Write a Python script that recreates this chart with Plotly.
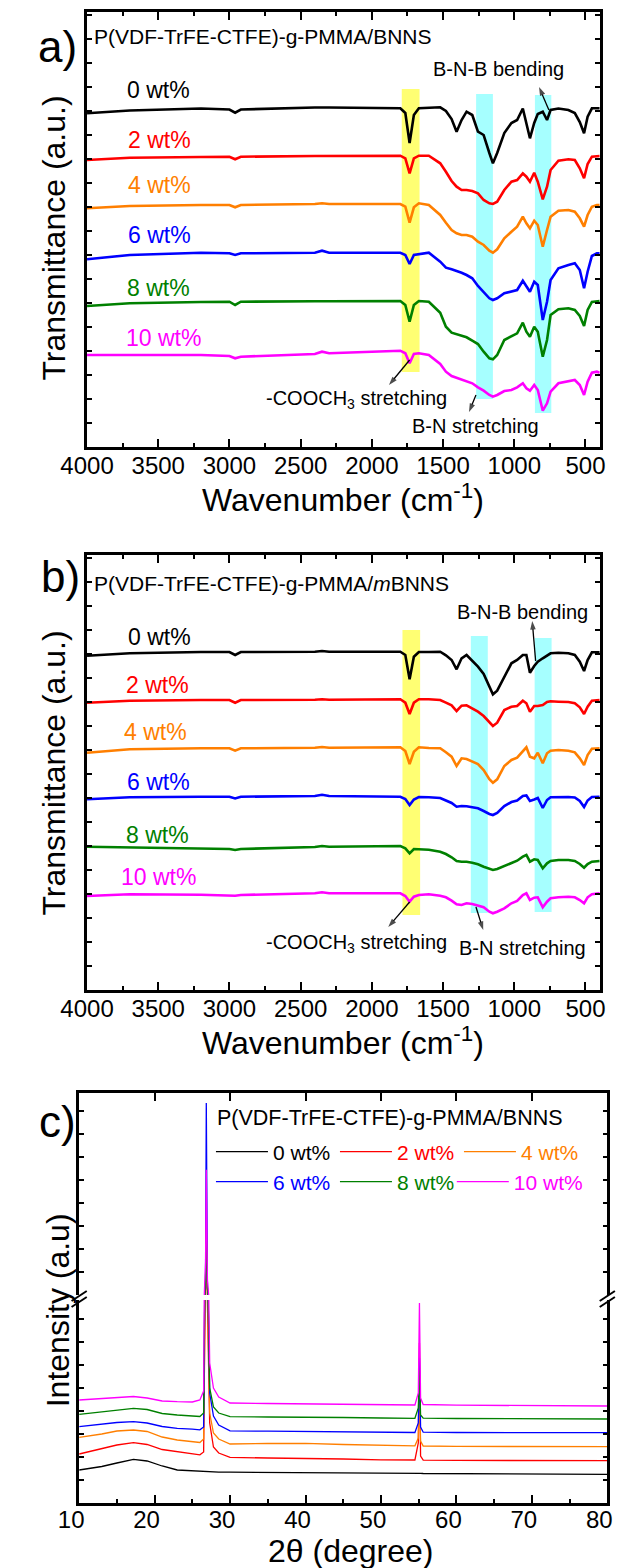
import plotly.graph_objects as go

W, H = 618, 1568
FONT = "Liberation Sans, Arial, sans-serif"


def px(x):
    return x / W


def py(y):
    return 1 - y / H


# ---------------- data ----------------
loadings = ["0 wt%", "2 wt%", "4 wt%", "6 wt%", "8 wt%", "10 wt%"]
colors = ["#000000", "#FF0000", "#FF7F00", "#0000FF", "#008000", "#FF00FF"]

wavenumber = [4000, 3700, 3200, 3000, 2960, 2920, 2400, 2350, 2300, 1800,
              1765, 1735, 1705, 1670, 1600, 1520, 1480, 1440, 1405, 1370,
              1335, 1295, 1255, 1215, 1175, 1150, 1120, 1070, 1020, 980,
              940, 915, 890, 860, 835, 800, 770, 745, 690, 620,
              575, 540, 510, 485, 455, 420, 400]

# panel a : P(VDF-TrFE-CTFE)-g-PMMA/BNNS  (stacked transmittance, a.u.)
ftir_a_0 = [333.7, 336.5, 338.5, 337.5, 334.3, 337.5, 339.5, 339.7, 339.5, 338.7,
            334, 304, 332, 338.7, 339, 339.7, 336, 328, 315.3, 327,
            335.3, 332, 315.3, 312, 294, 283.7, 294, 314, 324, 327,
            338.5, 324, 308.7, 324, 333, 335.3, 327, 337, 338.5, 337,
            334, 325, 313.7, 330.3, 338.7, 338.7, 338.7]
ftir_a_2 = [287, 289.3, 290, 290.3, 287.7, 290.3, 291, 291, 291, 291.3,
            288.7, 273.7, 288.7, 291.3, 291.3, 283.7, 275.3, 266, 260.3, 257,
            257, 256, 253.7, 247, 243.7, 243, 245.3, 257, 265.3, 267,
            273.7, 270.3, 265.3, 274.3, 265.3, 247.7, 260.3, 277, 286.3, 287.7,
            287, 278.7, 268.7, 283, 290.3, 291, 291]
ftir_a_4 = [238.7, 241, 242, 242, 239.7, 242, 243, 243.7, 243, 243,
            240.3, 224.3, 239.7, 243.7, 242, 232, 224.3, 217, 213.7, 212,
            212, 210.3, 205.3, 202, 196.3, 194.3, 197.7, 208.7, 215.3, 220.3,
            230.3, 223.7, 218.7, 226.3, 222, 200.3, 217, 230.3, 236.3, 237,
            235.3, 228.7, 220.3, 232, 240.3, 242, 242]
ftir_a_6 = [187.7, 192, 194.3, 193.7, 192, 193.7, 194.3, 196.3, 194.3, 194.3,
            192, 183, 192, 193, 194.3, 185.3, 179.3, 177.7, 176.3, 174.3,
            172, 168.7, 161, 155.3, 148.7, 147, 148.7, 153.7, 155.3, 157,
            166.3, 160.3, 155.3, 165.3, 162, 127, 145.3, 167, 178.7, 182,
            183.7, 177, 158.7, 175.3, 191, 193.7, 193.7]
ftir_a_8 = [141, 143.7, 145, 145.3, 142, 145.3, 145.7, 146, 145.7, 146,
            142, 125.3, 142, 146, 145.3, 134.3, 120.3, 114.3, 112.7, 111.3,
            109.7, 106.3, 103, 95.3, 88.7, 87.7, 92, 107, 110.3, 113.7,
            124.3, 115.3, 110.3, 120.3, 115.3, 90.3, 107, 132, 137.7, 138.7,
            137, 131, 121, 137, 145, 146, 146]
ftir_a_10 = [92, 92, 92, 91, 88.7, 90.3, 93, 95.3, 93.7, 96.3,
             93.7, 83.7, 93, 93.7, 92, 83, 75.3, 71, 69.3, 68,
             66.3, 63.7, 59.7, 56.3, 52, 50.3, 52, 56, 57, 59.7,
             63.7, 58.7, 56.3, 62, 57, 36.3, 43.7, 55.3, 63.7, 65.3,
             67, 62, 52, 65.3, 74.3, 75.3, 74.3]

# panel b : P(VDF-TrFE-CTFE)-g-PMMA/mBNNS
ftir_b_0 = [334.3, 336.7, 338, 338, 335, 338, 338.3, 339, 338.3, 338.3,
            335, 310.7, 333.3, 338, 338, 338.3, 334.7, 330, 320.7, 331.7,
            335, 329.3, 323.3, 316, 302.7, 295.7, 299.3, 313.3, 326.7, 330,
            335, 335, 317.3, 324, 328.3, 331.7, 334, 336.7, 337.3, 336.7,
            335, 328.3, 319, 330, 337.7, 338, 337.7]
ftir_b_2 = [287.3, 289.3, 290, 290, 287.3, 290, 290.3, 290.7, 290.3, 290.7,
            287.3, 276, 287.3, 290.7, 290.7, 290, 287.3, 284.7, 279, 284.3,
            284.7, 281.7, 278.3, 274, 268.3, 264, 267.3, 280, 283.3, 284,
            289.3, 286.7, 278.3, 284, 284, 285, 288, 288.7, 288.3, 288,
            286.7, 282.7, 276, 283.3, 289.3, 290, 290]
ftir_b_4 = [237.3, 240.7, 241.7, 241.7, 239.3, 241.7, 242.3, 243, 242.3, 242.7,
            239, 226, 238.3, 242.7, 242, 241.7, 237.7, 233.3, 224, 231.7,
            231, 228.3, 226, 220, 210.7, 207.3, 210.7, 224, 230, 232.3,
            238.3, 242.7, 233.3, 231.7, 237.3, 226.7, 236.7, 239.3, 240, 239.3,
            237.7, 231.7, 225, 235, 241.3, 241.7, 241.7]
ftir_b_6 = [190.7, 192.7, 193.3, 193.3, 191.5, 193.3, 194, 195.3, 194, 193.3,
            191, 185, 190.5, 193, 192.7, 192, 189.5, 187, 183.3, 184,
            183.7, 183, 181.7, 179, 176, 175, 177, 184, 188, 189.5,
            194, 194.5, 189, 190.5, 192, 182, 190, 192.7, 193, 193,
            192.5, 189, 183, 189.5, 193, 193.3, 193.3]
ftir_b_8 = [143.3, 142.7, 141.7, 141, 140, 141, 143, 144, 143.3, 144,
            141.7, 136.7, 141, 140.7, 140.3, 138.3, 136, 132.7, 129, 128.3,
            128.3, 127.3, 125.7, 123.3, 121, 120, 121, 124, 126.7, 129.3,
            133.3, 135, 128.3, 130.7, 130, 121.7, 126.7, 129, 130, 130,
            129, 126, 122.3, 126, 128.3, 129, 129]
ftir_b_10 = [94, 95.7, 95.3, 95, 94.3, 95, 96.7, 97.7, 96.7, 96.7,
             94, 88.3, 93.3, 95, 95.7, 94.3, 92.7, 89.3, 85.7, 85,
             86.7, 86, 84, 82.7, 78.3, 76.7, 78.3, 81.7, 86.7, 89,
             95, 96.7, 90, 92.3, 92.7, 82.7, 88.3, 91.7, 92.7, 93.3,
             92.7, 90, 86.7, 92.7, 95.7, 96.7, 96.7]

# highlighted bands [colour, x_start, x_end, y_bottom, y_top]
bands_a = [["#FFFF73", 1790, 1665, 75, 358],
           ["#A6FFFF", 1268, 1150, 48, 353],
           ["#A6FFFF", 855, 740, 34, 352]]
bands_b = [["#FFFF73", 1785, 1661, 75, 360],
           ["#A6FFFF", 1305, 1186, 77, 354],
           ["#A6FFFF", 857, 738, 78, 352]]

# annotation arrows [tail_x, tail_y, head_x, head_y] in data units
arrows_a = [[757, 337, 826, 360],     # B-N-B bending
            [1735, 87, 1880, 62],     # -COOCH3 stretching
            [1269, 52, 1318, 35]]     # B-N stretching
arrows_b = [[850, 329, 874, 369],
            [1735, 88, 1885, 63],
            [1269, 83, 1218, 60]]

# panel c : XRD (counts, a.u.)
two_theta = [10, 13, 15, 17.2, 19, 21, 23, 25, 26.0, 26.5,
             26.75, 26.85, 27.0, 27.3, 27.8, 28.5, 30, 35, 40, 45,
             50, 54.5, 54.95, 55.1, 55.25, 55.6, 60, 70, 80]
xrd_0 = [330, 365, 400, 437, 420, 370, 330, 320, 315, 313,
         312, 312, 311, 310, 310, 309, 308, 307, 305, 302,
         298, 296, 296, 296, 296, 295, 293, 290, 287]
xrd_2 = [490, 540, 580, 603, 585, 535, 513, 490, 482, 510,
         2500, 4500, 2000, 800, 560, 500, 457, 450, 447, 440,
         432, 430, 600, 1600, 470, 428, 426, 424, 423]
xrd_4 = [657, 690, 720, 730, 715, 660, 630, 612, 605, 640,
         2500, 5000, 2200, 900, 700, 640, 590, 595, 597, 585,
         575, 572, 650, 1130, 620, 570, 566, 565, 563]
xrd_6 = [763, 785, 805, 813, 800, 765, 747, 738, 732, 760,
         3000, 13300, 2500, 1100, 870, 780, 722, 718, 713, 710,
         707, 705, 800, 1450, 760, 708, 705, 704, 703]
xrd_8 = [887, 910, 930, 947, 935, 895, 880, 868, 865, 900,
         3000, 6000, 2500, 1150, 960, 900, 863, 860, 860, 855,
         850, 847, 950, 1330, 880, 848, 845, 842, 840]
xrd_10 = [1030, 1045, 1060, 1065, 1050, 1020, 1013, 1010, 1030, 1120,
          4000, 9400, 3000, 1400, 1150, 1060, 1000, 995, 990, 985,
          982, 980, 1100, 2000, 1050, 985, 978, 973, 970]

ftir_a = [ftir_a_0, ftir_a_2, ftir_a_4, ftir_a_6, ftir_a_8, ftir_a_10]
ftir_b = [ftir_b_0, ftir_b_2, ftir_b_4, ftir_b_6, ftir_b_8, ftir_b_10]
xrd = [xrd_0, xrd_2, xrd_4, xrd_6, xrd_8, xrd_10]

# ---------------- figure ----------------
fig = go.Figure()

for i in range(6):
    fig.add_trace(go.Scatter(x=wavenumber, y=ftir_a[i], mode="lines",
                             line=dict(color=colors[i], width=2.6),
                             xaxis="x", yaxis="y", showlegend=False,
                             hoverinfo="skip"))
for i in range(6):
    fig.add_trace(go.Scatter(x=wavenumber, y=ftir_b[i], mode="lines",
                             line=dict(color=colors[i], width=2.6),
                             xaxis="x2", yaxis="y2", showlegend=False,
                             hoverinfo="skip"))

legend_of = ["legend", "legend", "legend", "legend2", "legend2", "legend3"]
for i in range(6):
    fig.add_trace(go.Scatter(
        x=two_theta, y=xrd[i], mode="lines",
        line=dict(color=colors[i], width=1.3),
        xaxis="x3", yaxis="y3",
        name=f"<span style='color:{colors[i]}'>{loadings[i]}</span>",
        legend=legend_of[i], showlegend=True, hoverinfo="skip"))
for i in range(6):
    fig.add_trace(go.Scatter(x=two_theta, y=xrd[i], mode="lines",
                             line=dict(color=colors[i], width=1.3),
                             xaxis="x4", yaxis="y4", showlegend=False,
                             hoverinfo="skip"))

# arrows (line + arrow-head marker oriented along the segment)
for arrows, xr, yr in [(arrows_a, "x", "y"), (arrows_b, "x2", "y2")]:
    for tx, ty, hx, hy in arrows:
        fig.add_trace(go.Scatter(
            x=[tx, hx], y=[ty, hy], mode="lines+markers",
            line=dict(color="black", width=1.3),
            marker=dict(symbol=["circle", "arrow"], size=[0, 9],
                        color="black", angleref="previous",
                        line=dict(width=0)),
            xaxis=xr, yaxis=yr, showlegend=False, hoverinfo="skip"))

axis_common = dict(showline=True, linecolor="black", linewidth=2.6,
                   ticks="inside", tickcolor="black", showgrid=False,
                   zeroline=False,
                   tickfont=dict(family=FONT, size=24, color="black"))

xa_dom = [px(63.3), px(604)]
xc_dom = [px(55), px(612)]

leg_common = dict(orientation="h", xanchor="left", yanchor="middle",
                  bgcolor="rgba(0,0,0,0)", font=dict(family=FONT, size=21),
                  itemwidth=52, entrywidth=57, entrywidthmode="pixels",
                  tracegroupgap=0)

fig.update_layout(
    width=W, height=H,
    margin=dict(l=0, r=0, t=0, b=0),
    paper_bgcolor="white", plot_bgcolor="white",
    font=dict(family=FONT, color="black"),
    hovermode=False,
    xaxis=dict(domain=xa_dom, anchor="y", range=[4000, 400], dtick=500,
               tick0=0, ticklen=8, tickwidth=2, mirror="ticks",
               ticklabelstandoff=-5,
               minor=dict(ticks="inside", ticklen=4, tickwidth=1.5, dtick=250,
                          tickcolor="black"),
               **axis_common),
    yaxis=dict(domain=[py(447), py(12)], anchor="x", range=[0, 435],
               dtick=24, tick0=0, ticklen=5, tickwidth=1.5, mirror="ticks",
               showticklabels=False, **axis_common),
    xaxis2=dict(domain=xa_dom, anchor="y2", range=[4000, 400], dtick=500,
                tick0=0, ticklen=8, tickwidth=2, mirror="ticks",
                ticklabelstandoff=-5,
                minor=dict(ticks="inside", ticklen=4, tickwidth=1.5, dtick=250,
                           tickcolor="black"),
                **axis_common),
    yaxis2=dict(domain=[py(990), py(555)], anchor="x2", range=[0, 435],
                dtick=24, tick0=0, ticklen=5, tickwidth=1.5, mirror="ticks",
                showticklabels=False, **axis_common),
    xaxis3=dict(domain=xc_dom, anchor="y3", range=[10, 80], dtick=10,
                tick0=0, ticklen=8, tickwidth=2, mirror=False,
                ticklabelstandoff=-7, ticklabelshift=-8,
                ticklabeloverflow="allow",
                minor=dict(ticks="inside", ticklen=4, tickwidth=1.5, dtick=5,
                           tickcolor="black"),
                **axis_common),
    yaxis3=dict(domain=[py(1503), py(1300)], anchor="x3", range=[0, 2030],
                dtick=230, tick0=0, ticklen=5, tickwidth=1.5, mirror="ticks",
                showticklabels=False, **axis_common),
    xaxis4=dict(domain=xc_dom, anchor="y4", range=[10, 80], dtick=10,
                tick0=0, ticklen=8, tickwidth=2, side="top", mirror=False,
                showticklabels=False, **axis_common),
    yaxis4=dict(domain=[py(1295), py(1093)], anchor="x4", range=[2100, 13883],
                dtick=1342, tick0=2100, ticklen=5, tickwidth=1.5,
                mirror="ticks", showticklabels=False, **axis_common),
    legend=dict(x=px(194), y=py(1152), **leg_common),
    legend2=dict(x=px(194), y=py(1182), **leg_common),
    legend3=dict(x=px(448), y=py(1182), **dict(leg_common, entrywidth=80)),
)

# highlighted bands
shapes = []
for bands, xr, yr in [(bands_a, "x", "y"), (bands_b, "x2", "y2")]:
    for col, x0, x1, y0, y1 in bands:
        shapes.append(dict(type="rect", xref=xr, yref=yr, x0=x0, x1=x1,
                           y0=y0, y1=y1, fillcolor=col, line=dict(width=0),
                           layer="below"))
# axis break marks in panel c
for bx in [55, 612]:
    for dy in [0, 6]:
        shapes.append(dict(type="line", xref="paper", yref="paper",
                           x0=px(bx - 8), y0=py(1301 + dy),
                           x1=px(bx + 8), y1=py(1291 + dy),
                           line=dict(color="black", width=2)))
fig.update_layout(shapes=shapes)

ann = []


def text(x, y, s, size, color="black", xanchor="center", angle=0):
    ann.append(dict(x=px(x), y=py(y), xref="paper", yref="paper", text=s,
                    showarrow=False, xanchor=xanchor, yanchor="middle",
                    textangle=angle,
                    font=dict(family=FONT, size=size, color=color)))


# panel labels
text(32, 47, "a)", 44)
text(35, 576, "b)", 44)
text(32, 1121, "c)", 44)

# titles
text(69, 36, "P(VDF-TrFE-CTFE)-g-PMMA/BNNS", 21, xanchor="left")
text(69, 583, "P(VDF-TrFE-CTFE)-g-PMMA/<i>m</i>BNNS", 21, xanchor="left")
text(383, 1118, "P(VDF-TrFE-CTFE)-g-PMMA/BNNS", 21.5)

# axis titles
text(28, 238, "Transmittance (a.u.)", 32, angle=-90)
text(29, 773, "Transmittance (a.u.)", 32, angle=-90)
text(33, 1310, "Intensity (a.u)", 32, angle=-90)
text(333, 498, "Wavenumber (cm<sup>-1</sup>)", 32)
text(333, 1041, "Wavenumber (cm<sup>-1</sup>)", 32)
text(341, 1551, "2θ (degree)", 32)

# loading labels
lab_a = [(103, 90), (104, 140), (104, 185), (104, 235), (103, 288), (102, 338)]
lab_b = [(104, 637), (102, 685), (100, 732), (103, 782), (102, 835), (97, 877)]
for i in range(6):
    text(lab_a[i][0], lab_a[i][1], loadings[i], 23, colors[i], xanchor="left")
    text(lab_b[i][0], lab_b[i][1], loadings[i], 23, colors[i], xanchor="left")

# band annotations
text(497, 69, "B-N-B bending", 20)
text(348, 400, "-COOCH<sub>3</sub> stretching", 20)
text(473, 426, "B-N stretching", 20)
text(523, 612, "B-N-B bending", 20)
text(348, 943, "-COOCH<sub>3</sub> stretching", 20)
text(523, 948, "B-N stretching", 20)

fig.update_layout(annotations=ann)

fig.write_html("out.html")
